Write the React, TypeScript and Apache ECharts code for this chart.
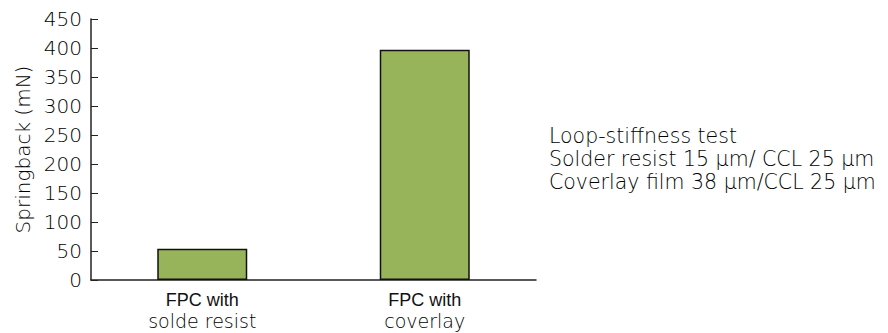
import React, { useEffect, useRef } from "react";
import * as echarts from "echarts";

const categories = ["FPC with\nsolde resist", "FPC with\ncoverlay"];
const springback = [54, 397];
const yTicks = { min: 0, max: 450, interval: 50 };
const noteLines = [
  "Loop-stiffness test",
  "Solder resist 15 μm/ CCL 25 μm",
  "Coverlay film 38 μm/CCL 25 μm",
];

export default function App() {
  const ref = useRef<HTMLDivElement>(null);
  useEffect(() => {
    if (!ref.current) return;
    const chart = echarts.init(ref.current, undefined, { renderer: "svg" });
    const font = "DejaVu Sans";
    chart.setOption({
      animation: false,
      backgroundColor: "#ffffff",
      textStyle: { fontFamily: font },
      grid: { left: 91, right: 352, top: 19, bottom: 53 },
      xAxis: {
        type: "category",
        data: categories,
        axisLine: { lineStyle: { color: "#222", width: 1.5 } },
        axisTick: { inside: true, length: 6, lineStyle: { color: "#222" } },
        axisLabel: {
          margin: 9,
          formatter: (v: string) => {
            const [a, b] = v.split("\n");
            return `{a|${a}}\n{b|${b}}`;
          },
          rich: {
            a: {
              fontFamily: "Liberation Sans",
              fontSize: 18,
              lineHeight: 21,
              color: "#111",
            },
            b: {
              fontFamily: font,
              fontWeight: 200,
              fontSize: 19,
              lineHeight: 21,
              color: "#000",
            },
          },
        },
      },
      yAxis: {
        type: "value",
        min: yTicks.min,
        max: yTicks.max,
        interval: yTicks.interval,
        name: "Springback (mN)",
        nameLocation: "middle",
        nameGap: 58,
        nameTextStyle: { color: "#000", fontSize: 20, fontFamily: font, fontWeight: 200 },
        axisLine: { show: true, lineStyle: { color: "#222", width: 1.5 } },
        axisTick: { show: true, inside: true, length: 7, lineStyle: { color: "#222" } },
        axisLabel: { color: "#000", fontSize: 20, margin: 9, fontFamily: font, fontWeight: 200 },
        splitLine: { show: false },
      },
      series: [
        {
          type: "bar",
          data: springback,
          barWidth: 90,
          itemStyle: { color: "#97B45B", borderColor: "#111", borderWidth: 1.5 },
        },
      ],
      graphic: [
        {
          type: "text",
          left: 549,
          top: 124,
          style: {
            text: noteLines.join("\n"),
            fontSize: 20.5,
            lineHeight: 23.3,
            fill: "#000",
            fontFamily: font,
            fontWeight: 200,
          },
        },
      ],
    });
    return () => chart.dispose();
  }, []);
  return (
    <div
      ref={ref}
      style={{ position: "absolute", left: 0, top: 0, width: 888, height: 333 }}
    />
  );
}
